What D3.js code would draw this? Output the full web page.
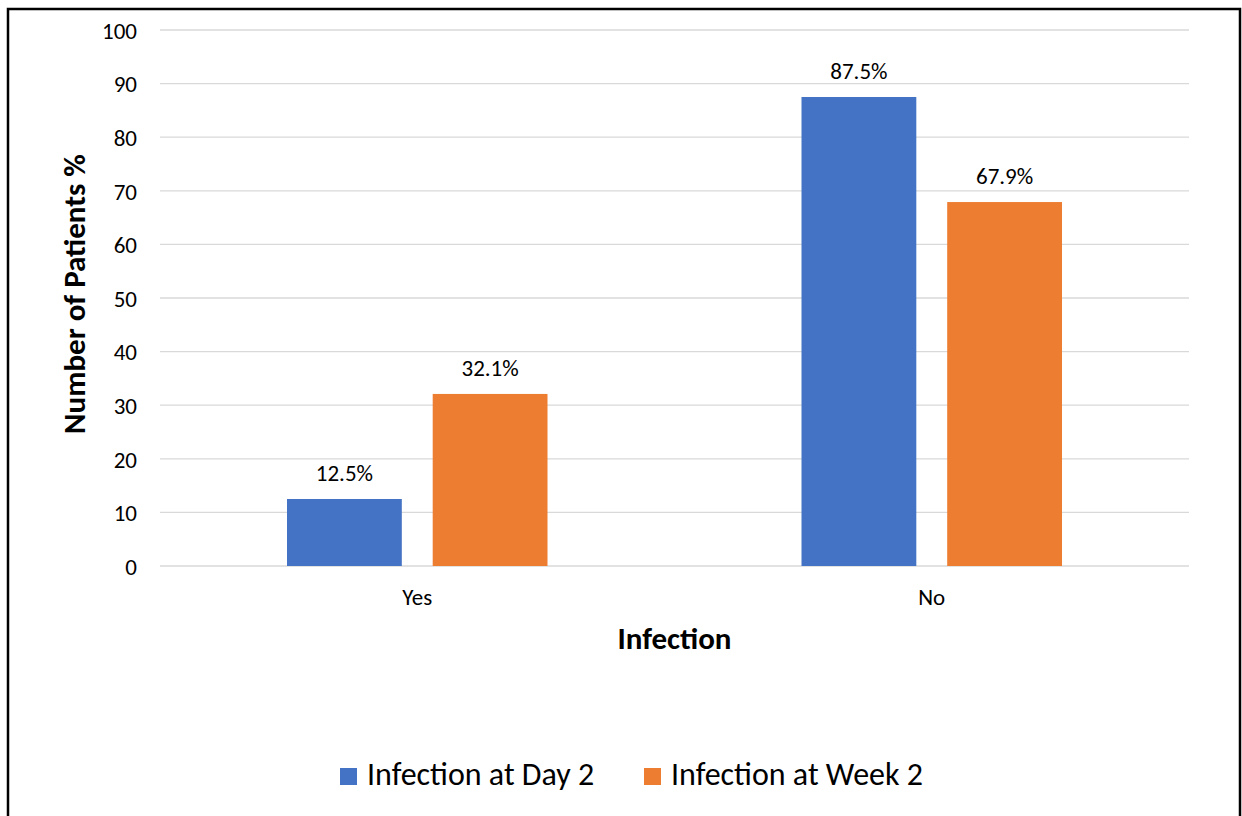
<!DOCTYPE html>
<html>
<head>
<meta charset="utf-8">
<script src="https://cdn.jsdelivr.net/npm/d3@7"></script>
<style>
  html, body { margin: 0; padding: 0; background: #fff; }
  svg { display: block; font-family: Calibri, Carlito, Lato, "Open Sans", sans-serif; }
</style>
</head>
<body>
<svg id="chart" width="1242" height="816"></svg>
<script>
// Categories, series and axis ticks
const categories = ["Yes", "No"];
const seriesNames = ["Infection at Day 2", "Infection at Week 2"];
const day2Values = [12.5, 87.5];
const week2Values = [32.1, 67.9];
const yTicks = [0, 10, 20, 30, 40, 50, 60, 70, 80, 90, 100];
const seriesColors = ["#4472C4", "#ED7D31"];

const svg = d3.select("#chart");
const FONT = "Calibri, Carlito, Lato, sans-serif";

// Outer frame
svg.append("rect")
  .attr("x", 8).attr("y", 9)
  .attr("width", 1232).attr("height", 820)
  .attr("fill", "#fff").attr("stroke", "#000").attr("stroke-width", 2.5);

const plot = { left: 160, right: 1189, top: 30, bottom: 566 };

const x0 = d3.scaleBand()
  .domain(categories)
  .range([plot.left, plot.right])
  .paddingInner(0).paddingOuter(0);

const groupPad = 127;
const x1 = d3.scaleBand()
  .domain(seriesNames)
  .range([groupPad, x0.bandwidth() - groupPad])
  .paddingInner(0.212).paddingOuter(0);

const y = d3.scaleLinear().domain([0, 100]).range([plot.bottom, plot.top]);

// Horizontal gridlines
svg.append("g")
  .selectAll("line")
  .data(yTicks)
  .join("line")
  .attr("x1", plot.left).attr("x2", plot.right)
  .attr("y1", d => y(d)).attr("y2", d => y(d))
  .attr("stroke", "#d9d9d9").attr("stroke-width", 1.3);

// Y axis tick labels
const yAxis = d3.axisLeft(y).tickValues(yTicks).tickSize(0).tickPadding(23);
const yg = svg.append("g").attr("transform", `translate(${plot.left},0)`).call(yAxis);
yg.select(".domain").remove();
yg.selectAll("text")
  .attr("font-family", FONT)
  .attr("font-size", 23).attr("dy", "0.36em").attr("fill", "#000");

// X axis category labels
const xAxis = d3.axisBottom(x0).tickSize(0);
const xg = svg.append("g").attr("transform", `translate(0,${plot.bottom})`).call(xAxis);
xg.select(".domain").remove();
xg.selectAll("text")
  .attr("font-family", FONT)
  .attr("font-size", 23).attr("y", 39).attr("dy", 0).attr("fill", "#000");

// Bars
const rows = categories.map((c, i) => ({
  category: c,
  values: [
    { series: seriesNames[0], value: day2Values[i], color: seriesColors[0] },
    { series: seriesNames[1], value: week2Values[i], color: seriesColors[1] }
  ]
}));

const groups = svg.append("g")
  .selectAll("g")
  .data(rows)
  .join("g")
  .attr("transform", d => `translate(${x0(d.category)},0)`);

groups.selectAll("rect")
  .data(d => d.values)
  .join("rect")
  .attr("x", d => x1(d.series))
  .attr("width", x1.bandwidth())
  .attr("y", d => y(d.value))
  .attr("height", d => y(0) - y(d.value))
  .attr("fill", d => d.color);

// Value labels above bars
groups.selectAll("text.val")
  .data(d => d.values)
  .join("text")
  .attr("class", "val")
  .attr("x", d => x1(d.series) + x1.bandwidth() / 2)
  .attr("y", d => y(d.value) - 18)
  .attr("text-anchor", "middle")
  .attr("font-size", 23)
  .attr("fill", "#000")
  .text(d => d.value.toFixed(1) + "%");

// Axis titles
svg.append("text")
  .attr("transform", `translate(85,294) rotate(-90)`)
  .attr("text-anchor", "middle")
  .attr("font-size", 31).attr("font-weight", "bold").attr("fill", "#000")
  .text("Number of Patients %");

svg.append("text")
  .attr("x", (plot.left + plot.right) / 2)
  .attr("y", 649)
  .attr("text-anchor", "middle")
  .attr("font-size", 31).attr("font-weight", "bold").attr("fill", "#000")
  .text("Infection");

// Legend
const legendItems = [
  { name: seriesNames[0], color: seriesColors[0], x: 340 },
  { name: seriesNames[1], color: seriesColors[1], x: 644 }
];
const lg = svg.append("g").selectAll("g").data(legendItems).join("g")
  .attr("transform", d => `translate(${d.x},768)`);
lg.append("rect").attr("width", 17).attr("height", 17).attr("fill", d => d.color);
lg.append("text")
  .attr("x", 27).attr("y", 17)
  .attr("font-size", 32).attr("fill", "#000")
  .text(d => d.name);
</script>
</body>
</html>
